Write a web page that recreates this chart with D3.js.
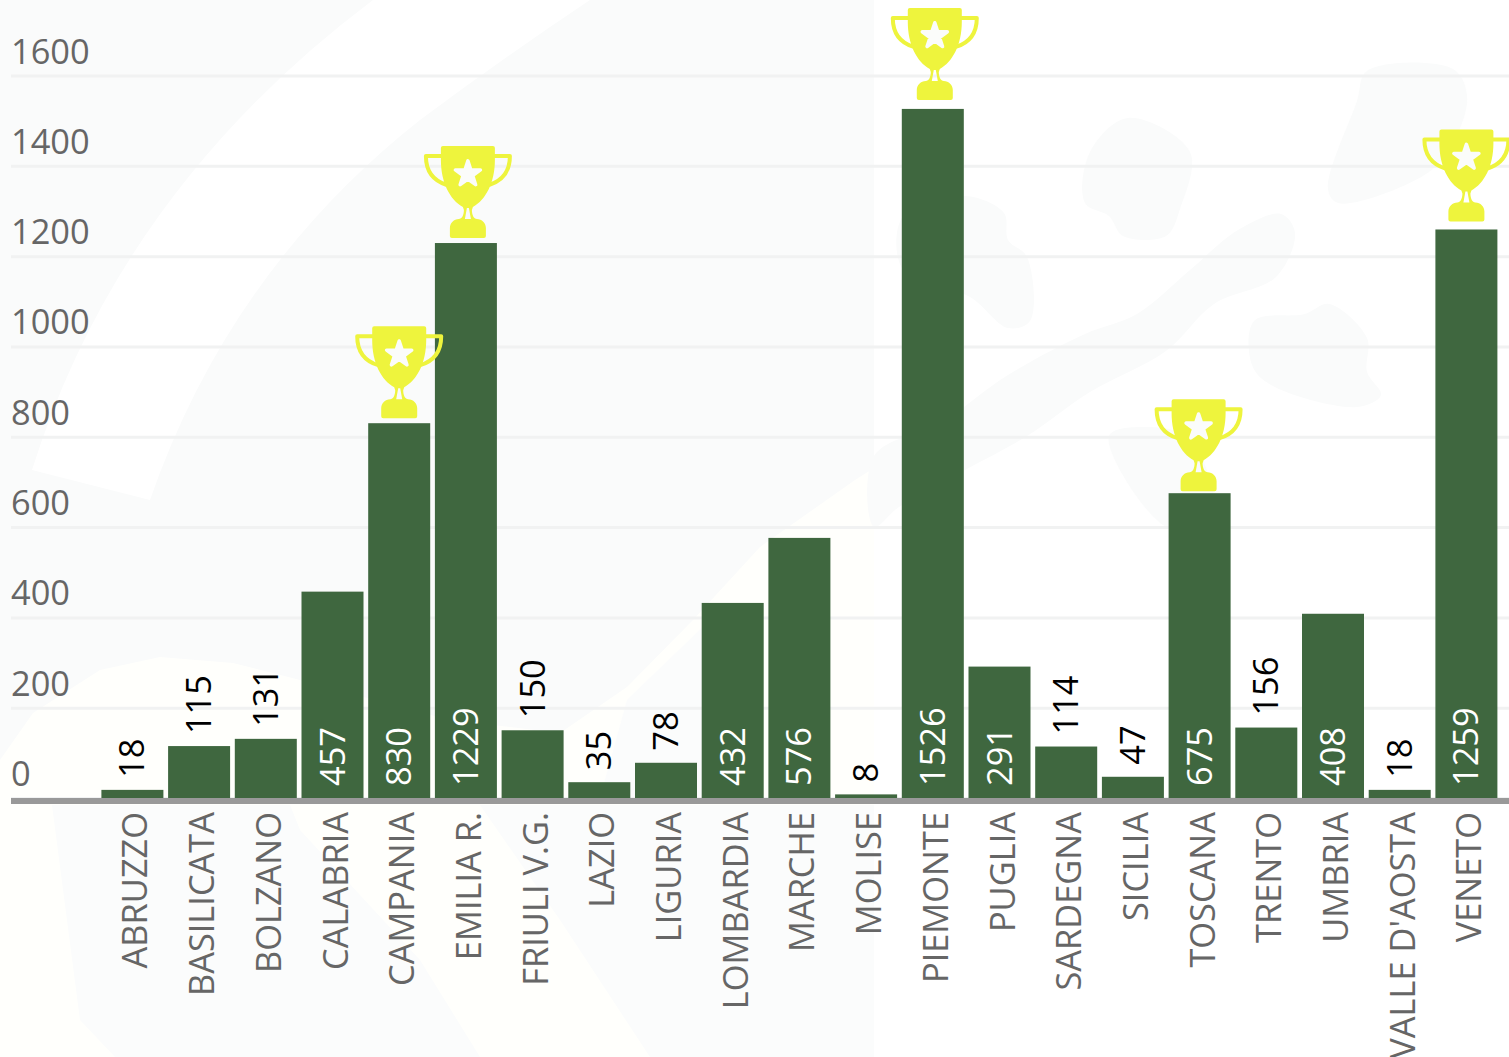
<!DOCTYPE html>
<html>
<head>
<meta charset="utf-8">
<script src="https://cdn.jsdelivr.net/npm/d3@7"></script>
<style>
  html, body { margin: 0; padding: 0; background: #fff; overflow: hidden; }
  svg { display: block; font-family: "Open Sans", sans-serif; }
</style>
</head>
<body>
<div id="chart"></div>
<script>
//************* data ***************/
var regions = ["ABRUZZO","BASILICATA","BOLZANO","CALABRIA","CAMPANIA","EMILIA R.","FRIULI V.G.","LAZIO","LIGURIA","LOMBARDIA","MARCHE","MOLISE","PIEMONTE","PUGLIA","SARDEGNA","SICILIA","TOSCANA","TRENTO","UMBRIA","VALLE D'AOSTA","VENETO"];
var values = [18,115,131,457,830,1229,150,35,78,432,576,8,1526,291,114,47,675,156,408,18,1259];
var yTicks = [0,200,400,600,800,1000,1200,1400,1600];
var winners = ["CAMPANIA","EMILIA R.","PIEMONTE","TOSCANA","VENETO"];

//************* set dimensions ***************/
var width = 1509, height = 1057;
var fontSize = 34.4;

var svg = d3.select("#chart").append("svg")
  .attr("width", width)
  .attr("height", height);

//************* faded map behind the chart ***************/
var tint = "#fafbfb", cream = "#fffffc";
var blob = d3.line().curve(d3.curveCatmullRomClosed.alpha(0.5));

var backdrop = [
  [tint, "M0,0H874V1057H0Z"],
  ["#ffffff", "M373,0Q120,190 32,470L150,500Q230,270 420,120Q500,60 590,0Z"],
  [cream, "M0,760L33,713L100,670L160,657L233,663L300,680L450,720L560,733L627,687L693,620L760,547L855,480L874,468V1057H0Z"],
  ["#fbfcfc", "M627,700L705,625V798H600Z"],
  ["#fbfcfc", "M52,805L80,1020L115,1057H480L420,960L300,830L290,805Z"],
  ["#fbfcfc", "M480,805L560,920L650,1057H874V805Z"],
  [tint, [[1128,118],[1190,152],[1180,209],[1166,236],[1123,236],[1109,216],[1085,203],[1090,152]]],
  [tint, [[1367,71],[1453,69],[1467,95],[1457,135],[1429,172],[1338,203],[1328,189],[1357,101]]],
  [tint, [[1281,214],[1295,233],[1276,277],[1214,304],[1166,351],[1090,392],[1027,436],[965,470],[899,507],[874,527],[874,456],[942,422],[1008,375],[1085,334],[1137,314],[1190,270],[1238,230]]],
  [tint, [[1329,304],[1367,338],[1367,372],[1381,395],[1357,407],[1271,385],[1252,365],[1254,321],[1305,314]]],
  [tint, [[965,196],[1004,213],[1008,240],[1027,257],[1030,321],[1008,328],[970,297],[903,270],[903,216]]],
  [tint, [[1109,436],[1142,427],[1190,439],[1214,527],[1166,527]]]
];

svg.append("g").selectAll("path")
  .data(backdrop)
  .enter().append("path")
    .attr("fill", function(d) { return d[0]; })
    .attr("d", function(d) {
      return typeof d[1] === "string" ? d[1] : blob(d[1]);
    });

//************* Axes ***************/
var x = d3.scaleBand()
  .domain(regions)
  .range([101.4, 1497.4])
  .paddingInner(0.0705)
  .paddingOuter(0);

var y = d3.scaleLinear()
  .domain([0, 1600])
  .range([798, 75.5]);

// y axis, its ticks run across the whole width as grid lines
var yAxis = svg.append("g")
  .attr("transform", "translate(11,0)")
  .call(d3.axisRight(y).tickValues(yTicks).tickSize(1498).tickFormat(d3.format("d")));

yAxis.select(".domain").remove();
yAxis.selectAll("line")
  .attr("stroke", "#f1f2f2")
  .attr("stroke-width", 3);
yAxis.selectAll("text")
  .attr("x", 0)
  .attr("y", -12.5)
  .attr("dy", 0)
  .attr("text-anchor", "start")
  .attr("font-family", "'Open Sans', sans-serif")
  .attr("font-size", fontSize)
  .attr("fill", "#666");

// x axis
var xAxis = svg.append("g")
  .attr("transform", "translate(0,798)")
  .call(d3.axisBottom(x).tickSize(0));

xAxis.select(".domain").remove();
xAxis.selectAll("text")
  .attr("transform", "rotate(-90)")
  .attr("x", -14)
  .attr("y", 3)
  .attr("dy", ".35em")
  .attr("text-anchor", "end")
  .attr("font-family", "'Open Sans', sans-serif")
  .attr("font-size", fontSize)
  .attr("fill", "#666");

//************** create bars *****************/
var rows = regions.map(function(r, i) { return {region: r, value: values[i]}; });

svg.append("g").selectAll("rect")
  .data(rows)
  .enter().append("rect")
    .attr("x", function(d) { return x(d.region); })
    .attr("y", function(d) { return y(d.value); })
    .attr("width", x.bandwidth())
    .attr("height", function(d) { return y(0) - y(d.value); })
    .attr("fill", "#3f673f");

// thick base line
svg.append("rect")
  .attr("x", 11)
  .attr("y", y(0))
  .attr("width", width - 11)
  .attr("height", 6)
  .attr("fill", "#999");

//************** value labels *****************/
svg.append("g").selectAll("text")
  .data(rows)
  .enter().append("text")
    .attr("transform", function(d) {
      var px = x(d.region) + x.bandwidth() / 2;
      var py = d.value >= 200 ? y(0) - 12 : y(d.value) - 12;
      return "translate(" + px + "," + py + ") rotate(-90)";
    })
    .attr("dy", ".35em")
    .attr("font-size", fontSize)
    .attr("fill", function(d) { return d.value >= 200 ? "#fff" : "#000"; })
    .text(function(d) { return d.value; });

//************** trophies *****************/
// the trophies do not sit at one fixed distance from their bars
var trophyGap = {"CAMPANIA": 5, "EMILIA R.": 5, "PIEMONTE": 9, "TOSCANA": 2, "VENETO": 8};
var trophyShift = {"CAMPANIA": 0, "EMILIA R.": 2, "PIEMONTE": 2, "TOSCANA": -1, "VENETO": 0};

var cupPath = "M-25,-92 H25 Q27,-92 27,-90 V-78 C27,-56 18,-38 5,-31 L4,-28 C4,-23 6,-19 9,-19 C14,-19 18,-15 18,-10 V-2 Q18,0 16,0 H-16 Q-18,0 -18,-2 V-10 C-18,-15 -14,-19 -9,-19 C-6,-19 -4,-23 -4,-28 L-5,-31 C-18,-38 -27,-56 -27,-78 V-90 Q-27,-92 -25,-92 Z "
  + "M-3,-19 L-1,-30 H1 L3,-19 Z";
var handlePath = "M-26,-82 H-42 C-42,-66 -34,-57 -21,-53 M26,-82 H42 C42,-66 34,-57 21,-53";
var star = d3.symbol().type(d3.symbolStar).size(195);

var trophy = svg.append("g").selectAll("g")
  .data(rows.filter(function(d) { return winners.indexOf(d.region) >= 0; }))
  .enter().append("g")
    .attr("transform", function(d) {
      var px = x(d.region) + x.bandwidth() / 2 + trophyShift[d.region];
      return "translate(" + px + "," + (y(d.value) - trophyGap[d.region]) + ")";
    });

trophy.append("path")
  .attr("d", handlePath)
  .attr("fill", "none")
  .attr("stroke", "#eef43d")
  .attr("stroke-width", 4)
  .attr("stroke-linejoin", "round");

trophy.append("path")
  .attr("d", cupPath)
  .attr("fill", "#eef43d")
  .attr("fill-rule", "evenodd");

trophy.append("path")
  .attr("d", star())
  .attr("transform", "translate(0,-64)")
  .attr("fill", "#fbfcfa")
  .attr("stroke", "#fbfcfa")
  .attr("stroke-width", 3.5)
  .attr("stroke-linejoin", "round");
</script>
</body>
</html>
